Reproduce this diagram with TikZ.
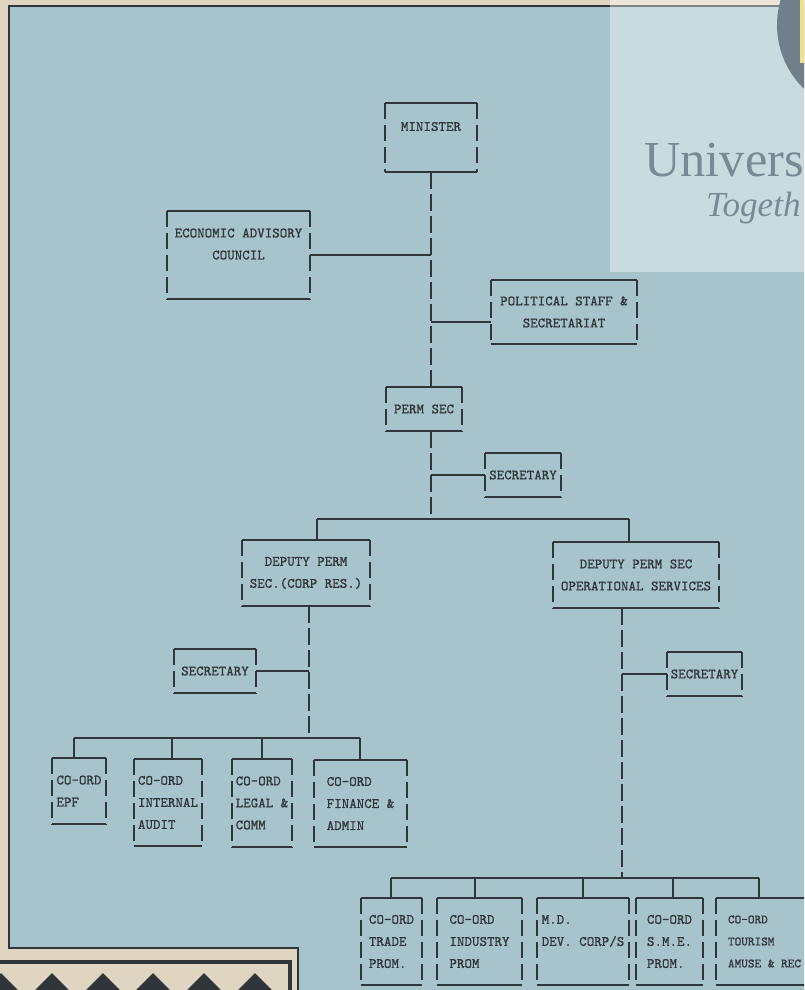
\documentclass[tikz,border=0pt]{standalone}
\usepackage{fontspec}
\setmainfont{Liberation Serif}
\newfontfamily\orgmono{lmmono10-regular.otf}[FakeBold=0.8]
\usepackage{xcolor}
\usepackage{tikz}

\definecolor{paper}{RGB}{224,213,193}
\definecolor{chartblue}{RGB}{167,195,203}
\definecolor{ink}{RGB}{48,53,57}
\definecolor{slate}{RGB}{112,127,137}
\definecolor{headgrey}{RGB}{122,137,148}
\newcommand{\orgfont}{\fontsize{12.2}{18.8}\selectfont\orgmono}

\tikzset{
  orgbox/.style={inner sep=0pt, align=center, font=\orgfont, text=ink},
  leafbox/.style={orgbox, align=left},
  boxsize/.style 2 args={minimum width=#1*0.03cm, minimum height=#2*0.03cm},
  hline/.style={ink, line width=1.5pt},
  vline/.style={ink, line width=1.5pt, dash pattern=on 0.5cm off 0.16cm},
}

\begin{document}
\begin{tikzpicture}[x=0.03cm, y=-0.03cm]
    \useasboundingbox (0,0) rectangle (804,990);
    \clip (0,0) rectangle (804,990);
    % paper, chart ground and frame
    \fill[paper] (0,0) rectangle (804,990);
    \fill[chartblue] (9,6) -- (804,6) -- (804,990) -- (298,990) -- (298,948) -- (9,948) -- cycle;
    \draw[ink, line width=1.6pt] (804,6) -- (9,6) -- (9,948) -- (298,948) -- (298,990);

    % zigzag strip bottom left
    \fill[paper] (0,962) rectangle (290,990);
    \draw[ink, line width=3pt] (0,962) -- (290,962) -- (290,990);
    \foreach \tx in {1,52,103,153,204,255}
        \fill[ink] (\tx,973) -- ++(19,19) -- ++(-38,0) -- cycle;

    % neighbouring advert, top right
    \fill[white, opacity=0.4] (610,0) rectangle (804,272);
    \fill[slate] (866,25) circle[radius=89];
    \fill[yellow!35!paper] (800,0) rectangle (810,63);
    \node[headgrey, font=\fontsize{43}{43}\selectfont, anchor=base west, inner sep=0pt] (univ) at (644,177) {Univers};
    \node[headgrey, font=\itshape\fontsize{30}{30}\selectfont, anchor=base west, inner sep=0pt] (togeth) at (706,217) {Togeth};

    % top of the chart
    \node[orgbox, boxsize={92}{69}] (minister) at (431,137.5) {MINISTER\\\mbox{}};
    \node[orgbox, boxsize={143}{88}] (eac) at (238.5,255) {ECONOMIC ADVISORY\\COUNCIL\\\mbox{}};
    \node[orgbox, boxsize={146}{64}] (polstaff) at (564,312) {POLITICAL STAFF \&\\SECRETARIAT};
    \node[orgbox, boxsize={76}{44}] (permsec) at (424,409) {PERM SEC};
    \node[orgbox, boxsize={76}{44}] (secA) at (523,475) {SECRETARY};
    \node[orgbox, boxsize={128}{66}] (dpsCorp) at (306,573) {DEPUTY PERM\\SEC.(CORP RES.)};
    \node[orgbox, boxsize={166}{66}] (dpsOps) at (636,575) {DEPUTY PERM SEC\\OPERATIONAL SERVICES};
    \node[orgbox, boxsize={82}{44}] (secB) at (215,671) {SECRETARY};
    \node[orgbox, boxsize={75}{44}] (secC) at (704.5,674) {SECRETARY};

    % co-ordinators, corporate resources
    \node[leafbox, boxsize={54}{66}] (epf) at (79,791) {CO-ORD\\EPF};
    \node[leafbox, boxsize={68}{87}] (audit) at (168,802.5) {CO-ORD\\INTERNAL\\AUDIT};
    \node[leafbox, boxsize={60}{88}] (legal) at (262,803) {CO-ORD\\LEGAL \&\\COMM};
    \node[leafbox, boxsize={93}{87}] (finance) at (360.5,803.5) {CO-ORD\\FINANCE \&\\ADMIN};

    % co-ordinators, operational services
    \node[leafbox, boxsize={61}{87}] (trade) at (391.5,941.5) {CO-ORD\\TRADE\\PROM.};
    \node[leafbox, boxsize={85}{87}] (industry) at (479.5,941.5) {CO-ORD\\INDUSTRY\\PROM};
    \node[leafbox, boxsize={92}{87}] (devcorp) at (583,941.5) {M.D.\\DEV. CORP/S\\\mbox{}};
    \node[leafbox, boxsize={67}{87}] (sme) at (669.5,941.5) {CO-ORD\\S.M.E.\\PROM.};
    \node[leafbox, boxsize={97}{87}, font=\fontsize{10.8}{18.8}\selectfont\orgmono] (tourism) at (764.5,941.5) {CO-ORD\\TOURISM\\AMUSE \& REC};

    % box edges: solid top and bottom, broken sides
    \foreach \b in {minister,eac,polstaff,permsec,secA,dpsCorp,dpsOps,secB,secC,
                    epf,audit,legal,finance,trade,industry,devcorp,sme,tourism} {
        \draw[hline] (\b.north west) -- (\b.north east) (\b.south west) -- (\b.south east);
        \draw[vline] (\b.north west) -- (\b.south west) (\b.north east) -- (\b.south east);
    }

    % spine from minister to deputies
    \coordinate (polJoin) at (431,322);
    \coordinate (topBus) at (431,519);
    \coordinate (busL) at (317,519);
    \coordinate (busR) at (629,519);
    \draw[vline] (minister.south) -- (minister.south |- permsec.north);
    \draw[hline] (eac.east) -- (eac.east -| minister.south);
    \draw[hline] (polJoin) -- (polJoin -| polstaff.west);
    \draw[vline] (permsec.south -| topBus) -- (topBus);
    \draw[hline] (secA.west) -- (secA.west -| topBus);
    \draw[hline] (busL) -- (busR);
    \draw[hline] (busL) -- (busL |- dpsCorp.north);
    \draw[hline] (busR) -- (busR |- dpsOps.north);

    % corporate resources branch
    \coordinate (corpBus) at (309,738);
    \draw[vline] (corpBus |- dpsCorp.south) -- (corpBus);
    \draw[hline] (secB.east) -- (secB.east -| corpBus);
    \draw[hline] (74,738) -- (360,738);
    \foreach \n/\x in {epf/74, audit/172, legal/262, finance/360} {
        \coordinate (drop) at (\x,738);
        \draw[hline] (drop) -- (drop |- \n.north);
    }

    % operational services branch
    \coordinate (opsBus) at (622,878);
    \draw[vline] (opsBus |- dpsOps.south) -- (opsBus);
    \draw[hline] (secC.west) -- (secC.west -| opsBus);
    \draw[hline] (391,878) -- (759,878);
    \foreach \n/\x in {trade/391, industry/475, devcorp/583, sme/673, tourism/759} {
        \coordinate (drop) at (\x,878);
        \draw[hline] (drop) -- (drop |- \n.north);
    }
\end{tikzpicture}
\end{document}
